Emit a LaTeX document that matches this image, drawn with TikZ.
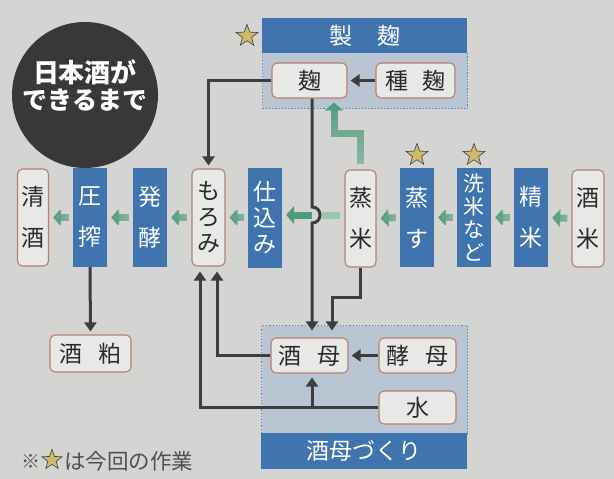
\documentclass[tikz,border=0pt]{standalone}
\usepackage{fontspec}
\newfontfamily\jp{Noto Sans CJK JP}
\usetikzlibrary{arrows.meta,shapes.geometric,fadings}
\definecolor{bg}{HTML}{D4D4D2}
\definecolor{blu}{HTML}{3F74AF}
\definecolor{pale}{HTML}{B9C5D2}
\definecolor{dotb}{HTML}{5A7FAE}
\definecolor{boxf}{HTML}{E8E8E6}
\definecolor{boxd}{HTML}{B58072}
\definecolor{dk}{HTML}{3D3D3D}
\definecolor{txt}{HTML}{2A2A2A}
\definecolor{grn}{HTML}{4E9B7D}
\definecolor{grnl}{HTML}{9CC4B2}
\definecolor{gold}{HTML}{CDBA6A}
\definecolor{circ}{HTML}{383838}
\definecolor{note}{HTML}{505050}
\tikzfading[name=gfadeH, left color=transparent!0, right color=transparent!55]
\tikzfading[name=gfadeV, top color=transparent!0, bottom color=transparent!55]
\tikzset{
  lbox/.style={draw=boxd, line width=1.1pt, fill=boxf, rounded corners=5pt, inner sep=0pt, text=txt},
  bbox/.style={fill=blu, inner sep=0pt, text=white},
  vtwo/.style={align=center, font=\jp\fontsize{23}{41}\selectfont},
  vthree/.style={align=center, font=\jp\fontsize{23}{26}\selectfont},
  vfour/.style={align=center, font=\jp\fontsize{21}{23}\selectfont},
  htext/.style={font=\jp\fontsize{23}{26}\selectfont},
  darr/.style={draw=dk, line width=3pt, -{Triangle[length=9pt,width=12pt]}, shorten >=3pt},
  garr/.style={draw=grn, line width=7pt, -{Triangle[length=8pt,width=18pt]}, shorten >=4pt, shorten <=4pt, path fading=gfadeH},
  starmark/.style={star, star points=5, star point ratio=2.4, minimum size=23pt, inner sep=0pt, fill=gold, draw=dk, line width=0.6pt},
  area/.style={fill=pale, draw=dotb, dotted, line width=1.2pt, inner sep=0pt, anchor=north west},
  header/.style={fill=blu, inner sep=0pt, anchor=north west, text=white, font=\jp\fontsize{23}{26}\selectfont}
}
\begin{document}
\begin{tikzpicture}[x=1pt,y=-1pt]
\useasboundingbox (0,0) rectangle (614,479);
\fill[bg] (0,0) rectangle (614,479);

% title circle
\node[circle, fill=circ, minimum size=146pt, inner sep=0pt] (logo) at (85,95) {};
\node[text=white, font=\jp\bfseries\fontsize{26}{28}\selectfont, inner sep=0pt] (title1) at (85,72) {日本酒が};
\node[text=white, font=\jp\bfseries\fontsize{25}{28}\selectfont, inner sep=0pt] (title2) at (85,100.5) {できるまで};

% group areas
\node[area, minimum width=205pt, minimum height=56pt] (kojiarea) at (262,52) {};
\node[header, minimum width=205pt, minimum height=35pt] (seigiku) at (262,18) {製\hspace{1.1em}麹};
\node[area, minimum width=206pt, minimum height=109pt] (shuboarea) at (261,325) {};
\node[header, minimum width=206pt, minimum height=36pt] (shubozukuri) at (261,433) {酒母づくり};

% stars
\node[starmark] (star1) at (247,36) {};
\node[starmark] (star2) at (417,155) {};
\node[starmark] (star3) at (474,155) {};

% top nodes
\node[lbox, htext, minimum width=75pt, minimum height=35pt] (koji) at (309.5,80.5) {麹};
\node[lbox, htext, minimum width=79pt, minimum height=35pt] (tanekoji) at (415.5,80.5) {種\hspace{0.6em}麹};

% main row
\node[lbox, vtwo, minimum width=31pt, minimum height=97pt] (seishu) at (33,217.5) {清\\酒};
\node[bbox, vtwo, minimum width=34pt, minimum height=99pt] (assaku) at (90,217.5) {圧\\搾};
\node[bbox, vtwo, minimum width=34pt, minimum height=99pt] (hakko) at (150,217.5) {発\\酵};
\node[lbox, vthree, minimum width=33pt, minimum height=97pt] (moromi) at (208.5,217.5) {も\\ろ\\み};
\node[bbox, vthree, minimum width=34pt, minimum height=100pt] (shikomi) at (265,217.5) {仕\\込\\み};
\node[lbox, vtwo, minimum width=31pt, minimum height=97pt] (mushimai) at (360.5,218.5) {蒸\\米};
\node[bbox, vtwo, minimum width=34pt, minimum height=99pt] (musu) at (417,217.5) {蒸\\す};
\node[bbox, vfour, minimum width=34pt, minimum height=99pt] (senmai) at (474,217.5) {洗\\米\\な\\ど};
\node[bbox, vtwo, minimum width=34pt, minimum height=99pt] (seimai) at (531,217.5) {精\\米};
\node[lbox, vtwo, minimum width=32pt, minimum height=97pt] (sakamai) at (588,218.5) {酒\\米};

% bottom nodes
\node[lbox, htext, minimum width=81pt, minimum height=37pt] (sakekasu) at (90.5,353.5) {酒\hspace{0.7em}粕};
\node[lbox, htext, minimum width=77pt, minimum height=35pt] (shubo) at (309.5,355.5) {酒\hspace{0.7em}母};
\node[lbox, htext, minimum width=77pt, minimum height=35pt] (kobo) at (417.5,355.5) {酵\hspace{0.7em}母};
\node[lbox, htext, minimum width=77pt, minimum height=33pt] (mizu) at (417.5,407.5) {水};

% footnote
\node[anchor=west, inner sep=0pt, text=note, font=\jp\fontsize{19}{22}\selectfont] (kome) at (21,461) {※};
\node[starmark, minimum size=21pt] (fstar) at (52,460) {};
\node[anchor=west, inner sep=0pt, text=note, font=\jp\fontsize{21.5}{24}\selectfont] (notetext) at (64,461) {は今回の作業};

% green flow arrows
\draw[garr] (sakamai.west) -- (seimai.east);
\draw[garr] (seimai.west) -- (senmai.east);
\draw[garr] (senmai.west) -- (musu.east);
\draw[garr] (musu.west) -- (mushimai.east);
\coordinate (jumpR) at (322,215);
\coordinate (jumpL) at (312,215);
\draw[draw=grnl, line width=7pt, shorten <=4pt] (mushimai.west |- jumpR) -- (jumpR);
\draw[draw=grn, line width=7pt, -{Triangle[length=8pt,width=18pt]}, shorten >=4pt] (jumpL) -- (shikomi.east |- jumpL);
\draw[garr] (shikomi.west) -- (moromi.east);
\draw[garr] (moromi.west) -- (hakko.east);
\draw[garr] (hakko.west) -- (assaku.east);
\draw[garr] (assaku.west) -- (seishu.east);
\draw[draw=grn, line width=7pt, -{Triangle[length=8pt,width=18pt]}, shorten >=4pt, shorten <=5pt, path fading=gfadeV]
  (mushimai.north) -- (360.5,134) -- (334,134) -- ([xshift=24.5pt]koji.south);

% dark connectors
\draw[darr] (tanekoji.west) -- (koji.east);
\draw[darr] (koji.west) -| (moromi.north);
\draw[darr, shorten >=7pt] ([xshift=2.5pt]koji.south) -- (312,207)
  .. controls (322.7,207) and (322.7,223) .. (312,223) -- ([xshift=2.5pt]shubo.north);
\draw[darr, shorten >=7pt] (mushimai.south) -- (360.5,297) -- (332,297) -- ([xshift=22.5pt]shubo.north);
\draw[darr] (kobo.west) -- (shubo.east);
\draw[darr, shorten >=5pt] (shubo.west) -| ([xshift=8.5pt]moromi.south);
\draw[darr, shorten >=5pt] (mizu.west) -| ([xshift=-8.5pt]moromi.south);
\draw[darr, shorten >=4pt] ([xshift=2.5pt]shubo.south |- mizu.west) -- ([xshift=2.5pt]shubo.south);
\draw[darr] (assaku.south) -- (sakekasu.north);
\end{tikzpicture}
\end{document}
